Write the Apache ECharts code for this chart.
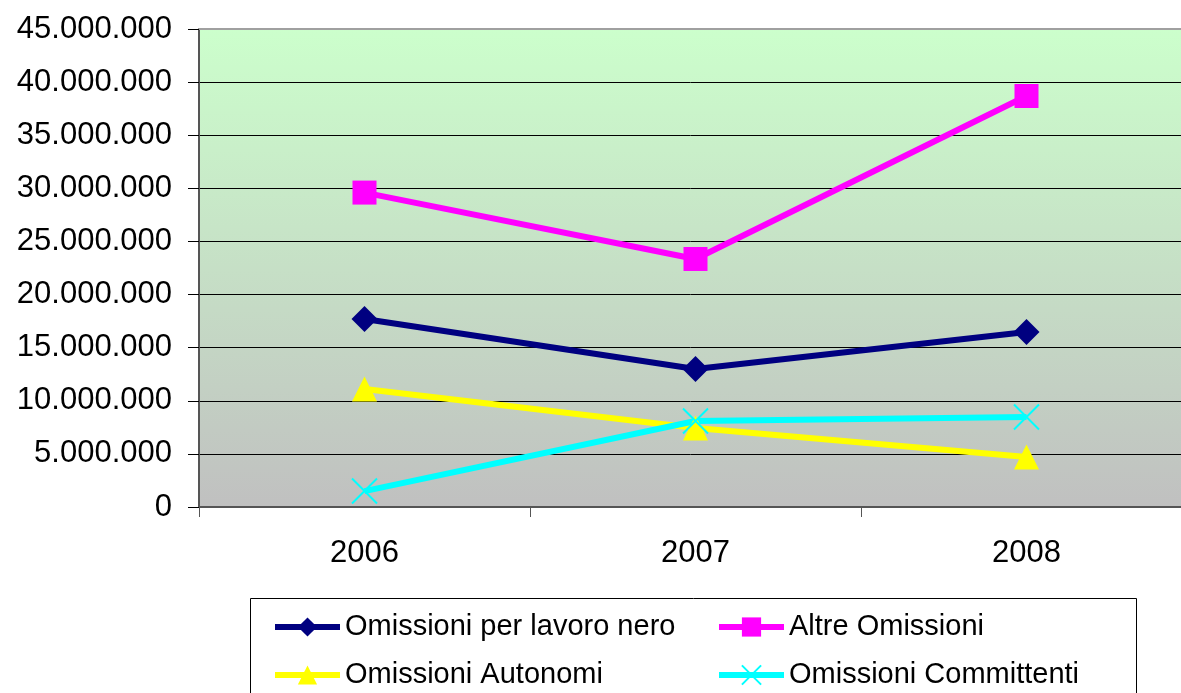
<!DOCTYPE html>
<html>
<head>
<meta charset="utf-8">
<title>Omissioni 2006-2008</title>
<script src="https://cdn.jsdelivr.net/npm/echarts@6/dist/echarts.min.js"></script>
<style>
  html, body { margin: 0; padding: 0; background: #ffffff; }
  #chart { width: 1181px; height: 693px; }
</style>
</head>
<body>
<div id="chart"></div>
<script>
const years = ['2006', '2007', '2008']
const lavoroNero = [17700000, 12990000, 16470000]
const altreOmissioni = [29600000, 23350000, 38690000]
const autonomi = [11100000, 7440000, 4700000]
const committenti = [1500000, 8100000, 8470000]

const font = 'Liberation Sans, Arial, sans-serif'

// numero con separatore delle migliaia "."
function fmt (v) {
  return String(v).replace(/\B(?=(\d{3})+(?!\d))/g, '.')
}

function lineSeries (name, data, color, symbol, size) {
  return {
    name: name,
    type: 'line',
    data: data,
    symbol: symbol,
    symbolSize: size,
    showAllSymbol: true,
    lineStyle: { color: color, width: 6 },
    itemStyle: { color: color },
    emphasis: { disabled: true },
    z: 3
  }
}

const chart = echarts.init(document.getElementById('chart'))

const crossSeries = lineSeries('Omissioni Committenti', committenti, '#00ffff',
  'path://M0,0L10,10M10,0L0,10', 25)
crossSeries.itemStyle = { color: 'transparent', borderColor: '#00ffff', borderWidth: 2 }

const legendText = { fontFamily: font, fontSize: 29, color: '#000000', lineHeight: 30 }

function legendCol (left, names) {
  return {
    orient: 'vertical',
    left: left,
    top: 612,
    padding: 0,
    itemWidth: 65,
    itemHeight: 24,
    itemGap: 18,
    lineStyle: { width: 6 },
    textStyle: legendText,
    data: names
  }
}

chart.setOption({
  animation: false,
  grid: {
    left: 199,
    top: 29,
    width: 993,
    height: 478,
    outerBoundsMode: 'none',
    show: true,
    borderWidth: 0,
    backgroundColor: new echarts.graphic.LinearGradient(0, 0, 0, 1, [
      { offset: 0, color: '#ccffcc' },
      { offset: 1, color: '#c0c0c0' }
    ])
  },
  graphic: [{
    type: 'rect',
    shape: { x: 250.5, y: 598.5, width: 886, height: 140 },
    style: { fill: '#ffffff', stroke: '#000000', lineWidth: 1 },
    z: 1
  }],
  legend: [
    legendCol(272, ['Omissioni per lavoro nero', 'Omissioni Autonomi']),
    legendCol(716, ['Altre Omissioni', 'Omissioni Committenti'])
  ],
  xAxis: [{
    type: 'category',
    data: years,
    boundaryGap: true,
    axisLine: { lineStyle: { color: '#555555', width: 2 } },
    axisTick: { show: true, length: 10, lineStyle: { color: '#555555', width: 1 } },
    axisLabel: { fontFamily: font, fontSize: 31, color: '#000000', margin: 31 },
    splitLine: { show: false }
  }, {
    type: 'category',
    data: years,
    position: 'top',
    axisLine: { lineStyle: { color: '#a0a0a0', width: 2 } },
    axisTick: { show: false },
    axisLabel: { show: false }
  }],
  yAxis: {
    type: 'value',
    min: 0,
    max: 45000000,
    interval: 5000000,
    axisLine: { show: true, lineStyle: { color: '#555555', width: 2 } },
    axisTick: { show: true, length: 11, lineStyle: { color: '#000000', width: 1 } },
    axisLabel: {
      fontFamily: font,
      fontSize: 31,
      color: '#000000',
      margin: 27,
      formatter: fmt
    },
    splitLine: { show: true, lineStyle: { color: '#000000', width: 1 } }
  },
  series: [
    lineSeries('Omissioni per lavoro nero', lavoroNero, '#000080', 'diamond', 26),
    lineSeries('Altre Omissioni', altreOmissioni, '#ff00ff', 'rect', 24),
    lineSeries('Omissioni Autonomi', autonomi, '#ffff00', 'triangle', 25),
    crossSeries
  ]
})
</script>
</body>
</html>
